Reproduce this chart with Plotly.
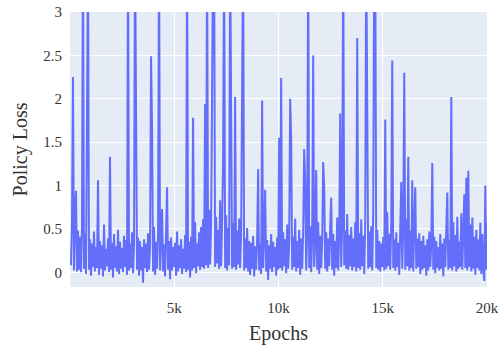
import plotly.graph_objects as go

# Policy loss, one value per ~48 epochs (3.8 = clipped at top)
policy_loss = [
    0.08, 0.55, 2.25, 0.02, 0.66, 0.94, 0.01, 0.48, 0.03, 0.41,
    0.00, 0.52, 3.8, 0.04, 0.44, -0.02, 1.8, 3.8, 0.03, 0.38,
    -0.04, 0.33, 0.06, 0.47, 0.01, 0.29, 0.05, 1.06, -0.03, 0.36,
    0.04, 0.31, -0.05, 0.55, 0.02, 0.27, 0.07, 0.39, 0.00, 1.33,
    0.03, 0.34, -0.06, 0.44, 0.05, 0.30, 0.01, 0.49, -0.02, 0.35,
    0.04, 0.28, 0.00, 0.42, 0.06, 0.37, -0.03, 3.8, 0.02, 0.33,
    0.05, 0.46, -0.01, 0.31, 3.8, 1.07, 0.03, 0.40, -0.04, 0.36,
    0.02, 0.29, -0.12, 0.38, 0.05, 0.33, 0.00, 0.45, 0.03, 0.30,
    2.49, 1.69, 0.01, 0.52, -0.03, 0.35, 0.04, 0.41, 3.8, 0.02,
    0.37, 0.73, 0.01, 0.32, -0.05, 0.44, 0.98, 0.03, 0.36, -0.08,
    0.40, 0.02, 0.29, 0.06, 0.34, -0.04, 0.47, 0.01, 0.31, 0.05,
    0.38, -0.02, 0.27, 0.04, 0.43, 0.00, 3.8, 0.03, 0.35, -0.06,
    0.41, 0.02, 1.78, 0.05, 0.58, -0.01, 0.33, 0.07, 0.46, 0.03,
    0.52, 0.06, 0.61, 0.04, 1.94, 0.08, 3.8, 0.05, 0.72, 0.09,
    0.55, 2.08, 3.8, 3.8, 0.06, 0.64, 0.10, 0.49, 0.04, 0.83,
    0.07, 0.58, 1.28, 3.8, 0.05, 0.66, 0.02, 0.51, 0.08, 3.8,
    1.91, 0.04, 0.57, 0.06, 2.02, 0.03, 0.48, 0.09, 0.62, 0.05,
    0.44, 2.48, 3.8, 0.02, 0.39, 0.05, 0.51, 0.01, 0.36, -0.03,
    0.34, 0.04, 0.42, -0.05, 0.30, 0.03, 0.38, 1.19, 0.02, 0.33,
    -0.02, 1.98, 0.05, 0.45, 0.95, 0.01, 0.37, -0.09, 0.31, 0.04,
    0.44, 0.00, 0.35, 0.06, 0.29, -0.04, 0.40, 0.03, 1.55, 0.05,
    2.24, 0.02, 0.46, 0.07, 0.38, -0.01, 0.55, 0.04, 0.33, 2.0,
    1.54, 0.03, 0.41, 0.06, 0.62, 0.01, 0.36, 0.05, 0.49, -0.03,
    0.39, 0.04, 0.47, 1.42, 1.07, 0.02, 0.44, 3.8, 0.05, 0.53,
    0.00, 0.40, 2.5, 0.06, 0.35, 1.18, 0.03, 0.58, -0.02, 0.42,
    0.05, 0.37, 1.27, 0.99, 0.04, 0.46, 0.01, 0.39, 0.07, 0.51,
    0.86, 0.03, 0.44, -0.04, 0.36, 0.05, 0.63, 0.02, 0.41, 1.83,
    0.06, 0.55, 3.8, 0.08, 0.48, 0.04, 0.67, 0.03, 0.43, 0.07,
    0.52, 0.02, 0.39, 0.06, 0.58, 0.01, 2.7, 0.05, 0.45, 0.03,
    0.61, 0.07, 0.42, -0.02, 0.56, 3.8, 1.08, 0.04, 0.47, 0.06,
    0.53, 0.02, 0.71, 3.8, 3.8, 0.05, 0.49, 0.03, 0.36, 0.01,
    0.33, 0.06, 0.41, 0.02, 1.76, 0.04, 0.69, 0.07, 0.44, 0.03,
    0.57, 2.44, 0.05, 0.38, 0.02, 0.46, 0.06, 0.34, -0.03, 0.39,
    1.04, 0.04, 0.52, 2.3, 0.03, 0.61, 0.07, 1.33, 0.02, 0.48,
    0.05, 1.06, 0.01, 0.57, 0.98, 0.04, 0.39, 0.06, 0.45, -0.02,
    0.36, 0.03, 0.42, 0.05, 0.31, -0.04, 0.38, 0.02, 0.47, 0.06,
    0.34, 1.26, 0.03, 0.41, -0.01, 0.36, 0.05, 0.29, 0.02, 0.44,
    0.04, 0.33, -0.05, 0.39, 0.06, 0.51, 0.92, 0.03, 0.37, 0.05,
    2.02, 0.02, 0.58, 0.07, 0.43, 0.01, 0.64, 0.04, 0.35, 0.06,
    0.68, 0.03, 0.47, 0.9, 0.05, 1.09, 0.02, 1.17, 0.06, 0.55,
    0.01, 0.63, 0.04, 0.41, -0.03, 0.49, 0.05, 0.38, 0.02, 0.57,
    -0.02, 0.44, 0.04, -0.10, 1.0, 0.03, 0.56,
]
epoch_step = 48
epochs = [epoch_step * (i + 1) for i in range(len(policy_loss))]

x_tickvals = [5000, 10000, 15000, 20000]
x_ticktext = ["5k", "10k", "15k", "20k"]
y_tickvals = [0, 0.5, 1, 1.5, 2, 2.5, 3]
y_ticktext = ["0", "0.5", "1", "1.5", "2", "2.5", "3"]

fig = go.Figure(go.Scatter(
    x=epochs, y=policy_loss, mode="lines",
    line=dict(color="#636EFA", width=2),
))

font_family = "Liberation Serif, Times New Roman, serif"
fig.update_layout(
    width=501, height=347,
    margin=dict(l=70, r=14, t=12, b=60, autoexpand=False),
    paper_bgcolor="white",
    plot_bgcolor="#E5ECF6",
    showlegend=False,
    font=dict(family=font_family, size=15, color="#333333"),
)
fig.update_xaxes(
    range=[1, 20000], automargin=False,
    tickvals=x_tickvals, ticktext=x_ticktext,
    tickfont=dict(family=font_family, size=15),
    showgrid=True, gridcolor="white", gridwidth=1,
    zeroline=False, showline=False,
    ticks="outside", ticklen=7, tickcolor="rgba(0,0,0,0)",
    title=dict(text="Epochs", font=dict(size=20, family=font_family), standoff=10),
)
fig.update_yaxes(
    range=[-0.17, 3.0], automargin=False,
    tickvals=y_tickvals, ticktext=y_ticktext,
    tickfont=dict(family=font_family, size=15),
    showgrid=True, gridcolor="white", gridwidth=1,
    zeroline=False, showline=False,
    ticks="outside", ticklen=4, tickcolor="rgba(0,0,0,0)",
    title=dict(text="Policy Loss", font=dict(size=20, family=font_family), standoff=10),
)

fig.write_html("out.html")
